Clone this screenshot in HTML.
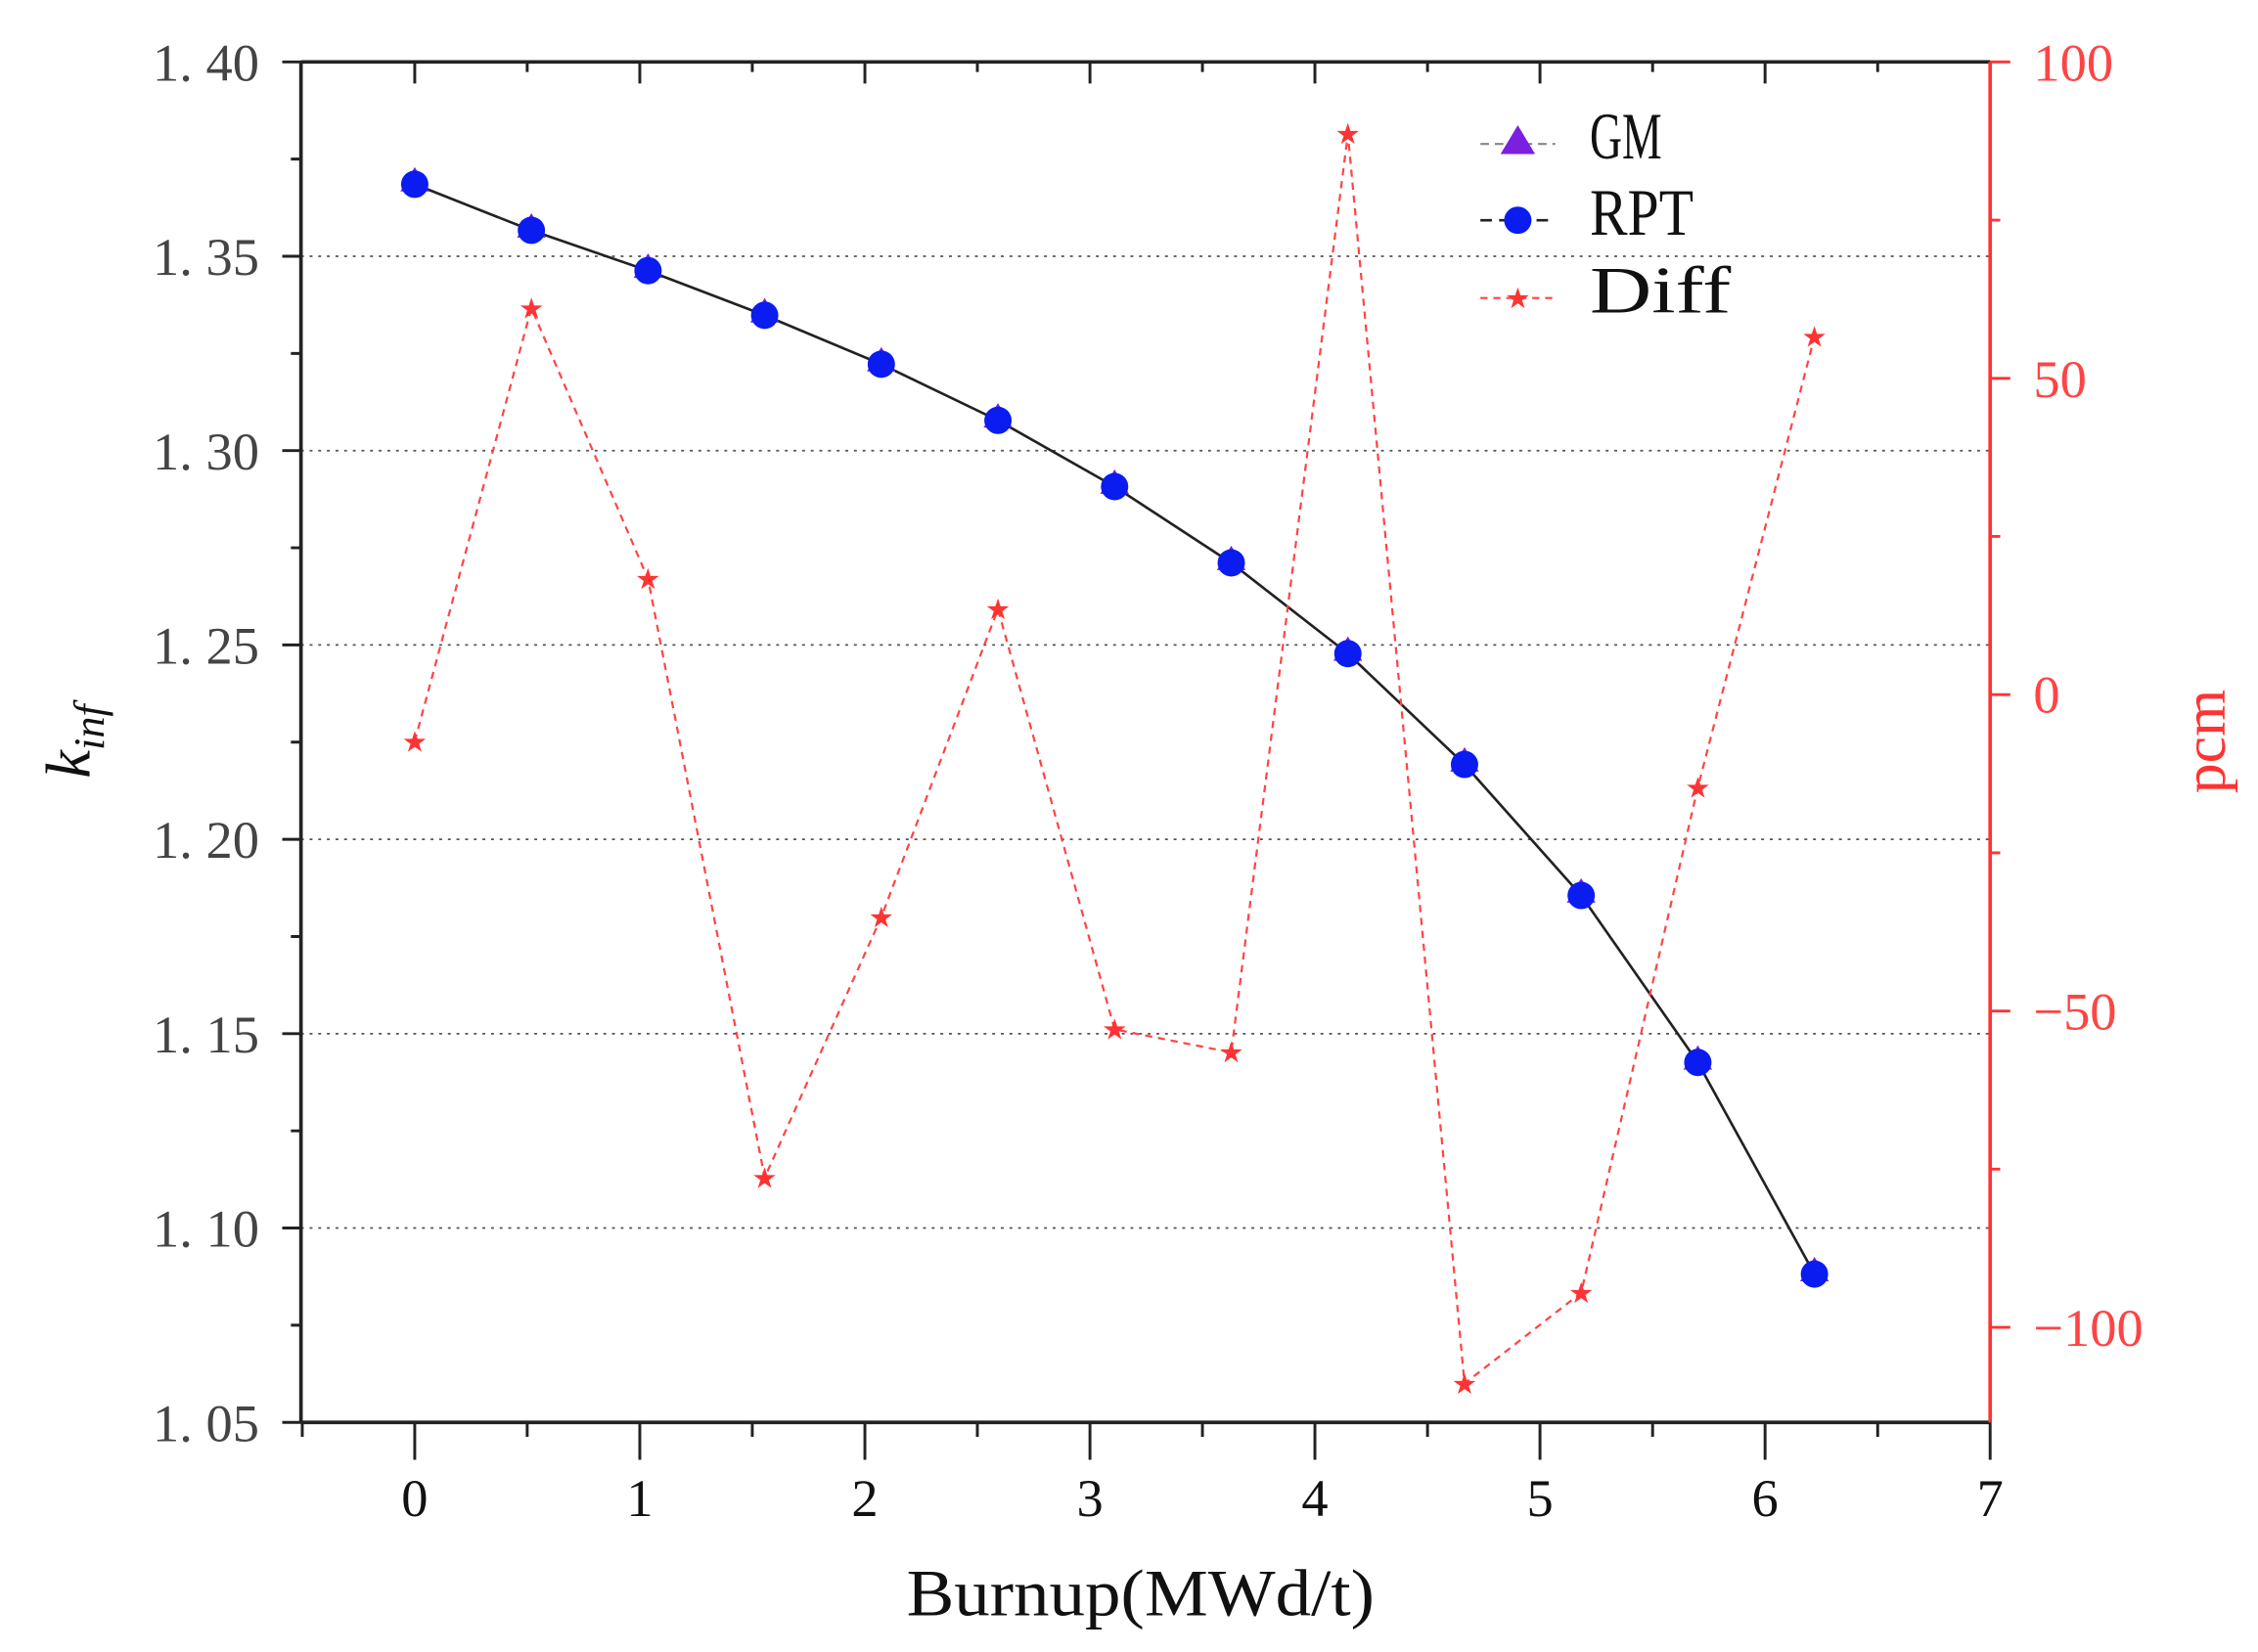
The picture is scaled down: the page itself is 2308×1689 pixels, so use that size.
<!DOCTYPE html>
<html><head><meta charset="utf-8"><style>html,body{margin:0;padding:0;background:#fff}svg{display:block}</style></head>
<body>
<svg width="2308" height="1689" viewBox="0 0 1568 1147.5" preserveAspectRatio="none" xmlns="http://www.w3.org/2000/svg" font-family="'Liberation Serif','Noto Serif CJK SC',serif">
<rect width="1568" height="1147.5" fill="#fff"/>
<g stroke="#555" stroke-width="1.2" stroke-dasharray="2,4">
<line x1="209" x2="1382" y1="178" y2="178"/>
<line x1="209" x2="1382" y1="313" y2="313"/>
<line x1="209" x2="1382" y1="448" y2="448"/>
<line x1="209" x2="1382" y1="583" y2="583"/>
<line x1="209" x2="1382" y1="718" y2="718"/>
<line x1="209" x2="1382" y1="853" y2="853"/>
</g>
<g stroke="#222" stroke-width="2.5" fill="none">
<line x1="209" y1="43" x2="1382" y2="43"/>
<line x1="209" y1="43" x2="209" y2="988"/>
<line x1="209" y1="988" x2="1382" y2="988"/>
</g>
<line x1="1382" y1="43" x2="1382" y2="988" stroke="#f33" stroke-width="2.5"/>
<g stroke="#222" stroke-width="2">
<path d="M196 43H209M196 178H209M196 313H209M196 448H209M196 583H209M196 718H209M196 853H209M196 988H209"/>
<path d="M202 110.5H209M202 245.5H209M202 380.5H209M202 515.5H209M202 650.5H209M202 785.5H209M202 920.5H209"/>
<path d="M288 988V1014M444.3 988V1014M600.6 988V1014M756.9 988V1014M913.1 988V1014M1069.4 988V1014M1225.7 988V1014M1382 988V1014"/>
<path d="M209.9 988V998M366.1 988V998M522.4 988V998M678.7 988V998M835 988V998M991.3 988V998M1147.6 988V998M1303.9 988V998"/>
<path d="M288 43V58M444.3 43V58M600.6 43V58M756.9 43V58M913.1 43V58M1069.4 43V58M1225.7 43V58"/>
<path d="M366.1 43V50M522.4 43V50M678.7 43V50M835 43V50M991.3 43V50M1147.6 43V50M1303.9 43V50"/>
</g>
<g stroke="#f33" stroke-width="2">
<path d="M1382 43H1396M1382 262.8H1396M1382 482.5H1396M1382 702.3H1396M1382 922H1396"/>
<path d="M1382 152.9H1389M1382 372.6H1389M1382 592.4H1389M1382 812.1H1389"/>
</g>
<g font-size="37" fill="#444" text-anchor="end">
<text x="180" y="56">1. 40</text><text x="180" y="191">1. 35</text><text x="180" y="326">1. 30</text>
<text x="180" y="461">1. 25</text><text x="180" y="596">1. 20</text><text x="180" y="731">1. 15</text>
<text x="180" y="866">1. 10</text><text x="180" y="1001">1. 05</text>
</g>
<g font-size="37" fill="#f44" text-anchor="start">
<text x="1412" y="56">100</text><text x="1412" y="276">50</text><text x="1412" y="495">0</text>
<text x="1412" y="715">−50</text><text x="1412" y="935">−100</text>
</g>
<g font-size="37" fill="#111" text-anchor="middle">
<text x="288" y="1053">0</text><text x="444.3" y="1053">1</text><text x="600.6" y="1053">2</text><text x="756.9" y="1053">3</text>
<text x="913.1" y="1053">4</text><text x="1069.4" y="1053">5</text><text x="1225.7" y="1053">6</text><text x="1382" y="1053">7</text>
</g>
<text x="792" y="1122" font-size="46" fill="#111" text-anchor="middle" textLength="325" lengthAdjust="spacingAndGlyphs">Burnup(MWd/t)</text>
<text transform="translate(62,515) rotate(-90)" font-size="44" fill="#111" text-anchor="middle" font-style="italic">k<tspan font-size="30" dy="10">inf</tspan></text>
<text transform="translate(1545,515) rotate(-90)" font-size="42" fill="#f33" text-anchor="middle">pcm</text>
<polyline fill="none" stroke="#222" stroke-width="1.8" points="288,128 369,160 450,188 531,219 612,253 693,292 774,338 855,391 936,454 1017,531 1098,622 1179,738 1260,885"/>
<g fill="#7b1fe0">
<path d="M288,116l10,17h-20z M369,148l10,17h-20z M450,176l10,17h-20z M531,207l10,17h-20z M612,241l10,17h-20z M693,280l10,17h-20z M774,326l10,17h-20z M855,379l10,17h-20z M936,442l10,17h-20z M1017,519l10,17h-20z M1098,610l10,17h-20z M1179,726l10,17h-20z M1260,873l10,17h-20z"/>
</g>
<g fill="#0a1cf0">
<circle cx="288" cy="128" r="9.5"/><circle cx="369" cy="160" r="9.5"/><circle cx="450" cy="188" r="9.5"/><circle cx="531" cy="219" r="9.5"/>
<circle cx="612" cy="253" r="9.5"/><circle cx="693" cy="292" r="9.5"/><circle cx="774" cy="338" r="9.5"/><circle cx="855" cy="391" r="9.5"/>
<circle cx="936" cy="454" r="9.5"/><circle cx="1017" cy="531" r="9.5"/><circle cx="1098" cy="622" r="9.5"/><circle cx="1179" cy="738" r="9.5"/><circle cx="1260" cy="885" r="9.5"/>
</g>
<polyline fill="none" stroke="#f44" stroke-width="1.5" stroke-dasharray="5,4" points="288,515 369,214 450,402 531,818 612,637 693,423 774,715 855,731 936,93 1017,961 1098,898 1179,547 1260,234"/>
<g fill="#f33" font-size="20" text-anchor="middle" font-family="'DejaVu Sans',sans-serif">
<text x="288" y="522">★</text><text x="369" y="221">★</text><text x="450" y="409">★</text><text x="531" y="825">★</text>
<text x="612" y="644">★</text><text x="693" y="430">★</text><text x="774" y="722">★</text><text x="855" y="738">★</text>
<text x="936" y="100">★</text><text x="1017" y="968">★</text><text x="1098" y="905">★</text><text x="1179" y="554">★</text><text x="1260" y="241">★</text>
</g>
<line x1="1028" y1="100" x2="1080" y2="100" stroke="#888" stroke-width="1.5" stroke-dasharray="6,4"/>
<path d="M1054,87l12,20h-24z" fill="#7b1fe0"/>
<line x1="1028" y1="153" x2="1080" y2="153" stroke="#222" stroke-width="1.8" stroke-dasharray="8,5"/>
<circle cx="1054" cy="153" r="9.5" fill="#0a1cf0"/>
<line x1="1028" y1="207" x2="1080" y2="207" stroke="#f44" stroke-width="1.5" stroke-dasharray="5,4"/>
<text x="1054" y="214" fill="#f33" font-size="20" text-anchor="middle" font-family="'DejaVu Sans',sans-serif">★</text>
<g font-size="46" fill="#111">
<text x="1104" y="110" textLength="50" lengthAdjust="spacingAndGlyphs">GM</text><text x="1104" y="163" textLength="72" lengthAdjust="spacingAndGlyphs">RPT</text><text x="1104" y="217" textLength="98" lengthAdjust="spacingAndGlyphs">Diff</text>
</g>
</svg>
</body></html>
